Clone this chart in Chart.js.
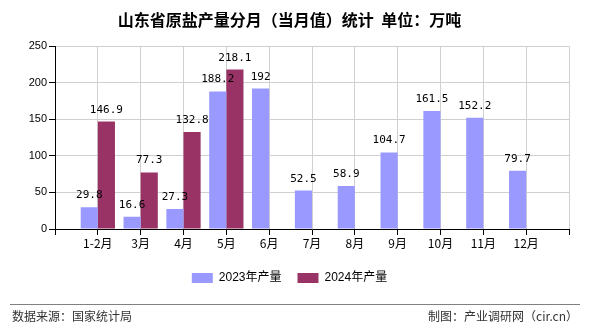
<!DOCTYPE html>
<html>
<head>
<meta charset="utf-8">
<script src="https://cdn.jsdelivr.net/npm/chart.js@4/dist/chart.umd.min.js"></script>
<style>
  body { margin: 0; background: #fff; }
</style>
</head>
<body>
<canvas id="graphique-sel" width="590" height="330"></canvas>
<script>
// Catégories (les emplacements vides aux extrémités gardent l'axe comme sur l'image)
const mois = ["", "1-2月", "3月", "4月", "5月", "6月", "7月", "8月", "9月", "10月", "11月", "12月", ""];
// Production mensuelle (万吨)
const production2023 = [null, 29.8, 16.6, 27.3, 188.2, 192, 52.5, 58.9, 104.7, 161.5, 152.2, 79.7, null];
const production2024 = [null, 146.9, 77.3, 132.8, 218.1, null, null, null, null, null, null, null, null];
const nomsSeries = ["2023年产量", "2024年产量"];
const titre = "山东省原盐产量分月（当月值）统计  单位：万吨";
const source = "数据来源：国家统计局";
const credit = "制图：产业调研网（cir.cn）";

// Valeurs affichées au-dessus des barres
const etiquettesBarres = {
    id: "etiquettesBarres",
    afterDatasetsDraw(chart) {
        const ctx = chart.ctx;
        ctx.save();
        ctx.font = "11px 'DejaVu Sans Mono'";
        ctx.fillStyle = "#000";
        ctx.textAlign = "center";
        ctx.textBaseline = "alphabetic";
        chart.data.datasets.forEach((dataset, i) => {
            const meta = chart.getDatasetMeta(i);
            meta.data.forEach((barre, j) => {
                const valeur = dataset.data[j];
                if (valeur === null) return;
                ctx.fillText(String(valeur), barre.x, barre.y - 9);
            });
        });
        ctx.restore();
    }
};

// Pied de page : ligne + source + crédit
const piedDePage = {
    id: "piedDePage",
    afterDraw(chart) {
        const ctx = chart.ctx;
        ctx.save();
        ctx.strokeStyle = "#808080";
        ctx.lineWidth = 1;
        ctx.beginPath();
        ctx.moveTo(10, 304.5);
        ctx.lineTo(580, 304.5);
        ctx.stroke();
        ctx.font = "12px 'Noto Sans CJK SC'";
        ctx.fillStyle = "#333";
        ctx.textBaseline = "middle";
        ctx.textAlign = "left";
        ctx.fillText(source, 12, 316);
        ctx.textAlign = "right";
        ctx.fillText(credit, 578, 316);
        ctx.restore();
    }
};

const data = {
    labels: mois,
    datasets: [{
        label: nomsSeries[0],
        data: production2023,
        backgroundColor: "#9999ff",
    }, {
        label: nomsSeries[1],
        data: production2024,
        backgroundColor: "#993366",
    }]
};

const config = {
    type: "bar",
    data: data,
    options: {
        responsive: false,
        animation: false,
        devicePixelRatio: 1,
        layout: { padding: { left: 10, right: 21, top: 0, bottom: 36 } },
        datasets: { bar: { categoryPercentage: 0.8, barPercentage: 1 } },
        plugins: {
            title: {
                display: true,
                text: titre,
                color: "#000",
                font: { family: "'Noto Sans CJK SC'", size: 16, weight: "bold" },
                padding: { top: 10, bottom: 17 }
            },
            legend: {
                position: "bottom",
                labels: {
                    boxWidth: 21,
                    boxHeight: 10,
                    padding: 16,
                    color: "#000",
                    font: { family: "'Liberation Sans', 'Noto Sans CJK SC'", size: 12 }
                }
            },
            tooltip: { enabled: false }
        },
        scales: {
            x: {
                offset: false,
                grid: { offset: false, color: "#d0d0d0", tickColor: "#000", tickLength: 6 },
                border: { color: "#000" },
                ticks: {
                    autoSkip: false,
                    maxRotation: 0,
                    padding: 1,
                    color: "#000",
                    font: { family: "'Noto Sans CJK SC'", size: 12 }
                },
                afterFit: function (scale) { scale.height = 27; }
            },
            y: {
                min: 0,
                max: 250,
                grid: { color: "#d0d0d0", tickColor: "#000", tickLength: 6 },
                border: { color: "#000" },
                ticks: {
                    stepSize: 50,
                    padding: 2,
                    color: "#000",
                    font: { family: "'Liberation Sans'", size: 11 }
                },
                afterFit: function (scale) { scale.width = 45; }
            }
        }
    },
    plugins: [etiquettesBarres, piedDePage]
};

const graphiqueSel = new Chart(document.getElementById("graphique-sel"), config);
</script>
</body>
</html>
